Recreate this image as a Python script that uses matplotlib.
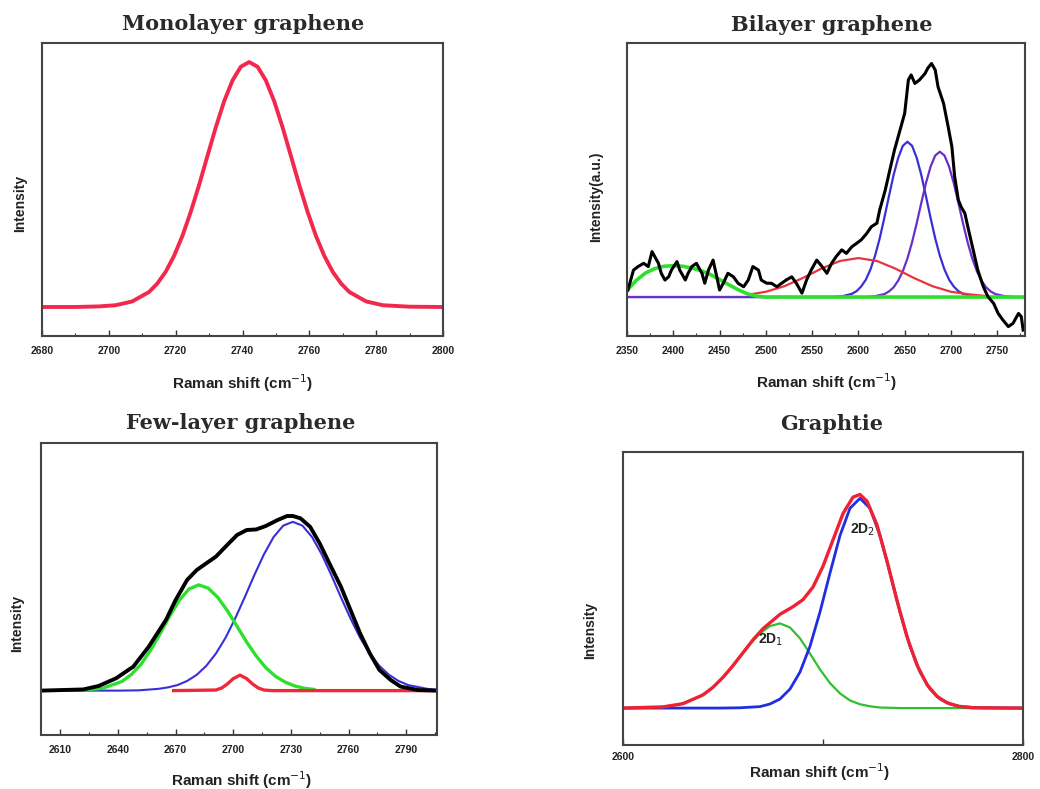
# Raman 2D band: monolayer / bilayer / few-layer graphene / graphite
import matplotlib
matplotlib.use('Agg')
import matplotlib.pyplot as plt
from matplotlib.ticker import MultipleLocator

# ================== data (intensity in % of frame) ==================
# Monolayer
mono_x = [2680, 2690, 2697, 2702, 2707, 2712, 2714.5, 2717, 2719.5, 2722, 2724.5, 2727,
          2729.5, 2732, 2734.5, 2737, 2739.5, 2742, 2744.5, 2747, 2749.5, 2752, 2754.5,
          2757, 2759.5, 2762, 2764.5, 2767, 2769.5, 2772, 2777, 2782, 2790, 2800]
mono_y = [9.9, 9.9, 10.1, 10.5, 11.8, 15.0, 17.9, 21.9, 27.3, 34.1, 42.3, 51.5,
          61.4, 71.2, 80.1, 87.2, 91.9, 93.5, 91.9, 87.2, 80.1, 71.2, 61.4,
          51.5, 42.3, 34.1, 27.3, 21.9, 17.9, 15.0, 11.8, 10.5, 10.0, 9.9]

# Bilayer: measured spectrum
bi_x = [2351, 2357, 2362, 2368, 2373, 2377, 2380, 2384, 2387, 2391,
        2395, 2398, 2404, 2407, 2413, 2416, 2420, 2425, 2431, 2434,
        2438, 2443, 2447, 2450, 2454, 2459, 2465, 2470, 2476, 2481,
        2486, 2492, 2495, 2501, 2506, 2512, 2517, 2522, 2528, 2533,
        2539, 2544, 2549, 2555, 2560, 2566, 2571, 2576, 2582, 2587,
        2593, 2598, 2603, 2609, 2614, 2620, 2623, 2629, 2634, 2639,
        2645, 2650, 2654, 2657, 2661, 2666, 2672, 2675, 2679, 2683,
        2686, 2692, 2697, 2701, 2704, 2708, 2711, 2715, 2719, 2724,
        2729, 2735, 2740, 2746, 2751, 2756, 2762, 2767, 2773, 2776,
        2778]
bi_y = [15.7, 22.5, 23.7, 24.8, 23.7, 28.8, 27.1, 24.8, 21.4, 19.1,
        20.2, 22.5, 25.4, 22.5, 19.1, 21.4, 23.7, 24.8, 21.4, 18.0,
        22.5, 25.9, 20.2, 15.7, 18.0, 21.4, 20.2, 18.0, 16.8, 19.1,
        23.7, 22.5, 19.1, 18.0, 18.0, 16.8, 18.0, 19.1, 20.2, 18.0,
        14.6, 19.1, 22.5, 25.9, 24.0, 21.4, 24.8, 27.1, 29.4, 28.2,
        30.5, 31.6, 32.8, 35.0, 37.3, 38.5, 43.0, 49.8, 56.7, 63.5,
        70.3, 76.0, 87.4, 89.1, 86.2, 87.4, 89.6, 91.4, 93.0, 90.8,
        85.1, 79.4, 71.4, 64.6, 54.4, 46.4, 44.1, 41.9, 36.2, 29.4,
        22.5, 16.8, 13.4, 11.2, 7.7, 5.5, 3.2, 4.3, 7.7, 6.6,
        2.0]
# Bilayer: fitted components
bi_p1_x = [2350, 2573, 2583, 2593, 2598, 2603, 2608, 2613, 2618, 2623, 2628, 2633, 2638, 2643,
           2648, 2653, 2658, 2663, 2668, 2673, 2678, 2683, 2688, 2693, 2698, 2703, 2708, 2713,
           2723, 2733, 2780]
bi_p1_y = [13.3, 13.3, 13.6, 14.4, 15.3, 16.9, 19.2, 22.7, 27.4, 33.3, 40.3, 47.7, 54.9, 60.8,
           64.9, 66.3, 64.9, 60.8, 54.9, 47.7, 40.3, 33.3, 27.4, 22.7, 19.2, 16.9, 15.3, 14.4,
           13.6, 13.3, 13.3]
bi_p2_x = [2350, 2608, 2618, 2628, 2633, 2638, 2643, 2648, 2653, 2658, 2663, 2668, 2673, 2678,
           2683, 2688, 2693, 2698, 2703, 2708, 2713, 2718, 2723, 2728, 2733, 2738, 2743, 2748,
           2758, 2768, 2780]
bi_p2_y = [13.3, 13.3, 13.6, 14.3, 15.2, 16.6, 18.9, 22.1, 26.5, 32.0, 38.5, 45.5, 52.2, 57.8,
           61.6, 62.9, 61.6, 57.8, 52.2, 45.5, 38.5, 32.0, 26.5, 22.1, 18.9, 16.6, 15.2, 14.3,
           13.6, 13.3, 13.3]
bi_red_x = [2483, 2500, 2520, 2540, 2560, 2580, 2600, 2620, 2640, 2660, 2680, 2700, 2720, 2740]
bi_red_y = [14.2, 15.1, 17.0, 19.8, 23.0, 25.6, 26.6, 25.6, 23.0, 19.8, 17.0, 15.1, 14.2, 13.6]
bi_green_x = [2350, 2360, 2370, 2380, 2390, 2400, 2410, 2420, 2430, 2440, 2450, 2460, 2470,
              2480, 2490, 2500, 2780]
bi_green_y = [15.5, 19.0, 21.5, 23.0, 23.8, 24.0, 23.8, 23.2, 22.3, 21.0, 19.3, 17.5, 15.8,
              14.4, 13.6, 13.3, 13.3]

# Few-layer
fl_x = [2600, 2622, 2630, 2639, 2648, 2656, 2665, 2670, 2676, 2681,
        2686, 2691, 2696, 2702, 2707, 2712, 2717, 2723, 2728, 2731,
        2735, 2740, 2745, 2750, 2756, 2761, 2766, 2771, 2776, 2782,
        2787, 2796, 2806]
fl_y = [15.2, 15.6, 16.8, 19.4, 23.4, 30.2, 39.4, 46.2, 53.1, 56.5,
        58.8, 61.1, 64.5, 68.5, 70.2, 70.4, 71.6, 73.6, 75.0, 75.0,
        74.2, 71.3, 65.6, 58.8, 50.8, 42.8, 34.8, 28.0, 22.3, 18.8,
        16.6, 15.4, 15.2]
fl_green_x = [2622, 2632, 2642, 2647, 2652, 2657, 2662, 2667, 2672, 2677, 2682, 2687,
              2692, 2697, 2702, 2707, 2712, 2717, 2722, 2727, 2732, 2737, 2742]
fl_green_y = [15.4, 16.0, 18.3, 20.7, 24.2, 29.0, 34.7, 40.8, 46.2, 50.0, 51.4, 50.3,
              47.1, 42.5, 37.2, 31.8, 27.0, 23.0, 20.1, 18.1, 16.8, 16.0, 15.6]
fl_blue_x = [2600, 2641, 2651, 2661, 2666, 2671, 2676, 2681, 2686, 2691, 2696, 2701, 2706,
             2711, 2716, 2721, 2726, 2731, 2736, 2741, 2746, 2751, 2756, 2761, 2766, 2771,
             2776, 2781, 2786, 2791, 2801, 2806]
fl_blue_y = [15.2, 15.2, 15.3, 15.8, 16.3, 17.1, 18.5, 20.6, 23.7, 27.9, 33.3, 39.9, 47.2,
             54.8, 61.9, 67.8, 71.7, 73.0, 71.7, 67.8, 61.9, 54.8, 47.2, 39.9, 33.3, 27.9,
             23.7, 20.6, 18.5, 17.1, 15.8, 15.5]
fl_red_x = [2669, 2691, 2694, 2697, 2700, 2703.5, 2707, 2710, 2713, 2716, 2720, 2806]
fl_red_y = [15.2, 15.4, 16.1, 17.5, 19.3, 20.5, 19.3, 17.5, 16.1, 15.4, 15.2, 15.2]

# Graphite
gr_green_x = [2600, 2618.5, 2628.5, 2638.5, 2643.5, 2648.5, 2653.5, 2658.5, 2663.5, 2668.5,
              2673.5, 2678.5, 2683.5, 2688.5, 2693.5, 2698.5, 2703.5, 2708.5, 2713.5, 2718.5,
              2723.5, 2728.5, 2738.5, 2800]
gr_green_y = [12.6, 12.9, 13.9, 16.5, 18.8, 22.0, 25.8, 30.1, 34.4, 38.1,
              40.6, 41.5, 40.1, 36.4, 31.2, 25.8, 21.1, 17.6, 15.2, 13.9,
              13.2, 12.8, 12.6, 12.6]
gr_blue_x = [2600, 2648.5, 2658.5, 2668.5, 2673.5, 2678.5, 2683.5, 2688.5, 2693.5, 2698.5,
             2703.5, 2708.5, 2713.5, 2718.5, 2723.5, 2728.5, 2733.5, 2738.5, 2743.5, 2748.5,
             2753.5, 2758.5, 2763.5, 2768.5, 2778.5, 2800]
gr_blue_y = [12.6, 12.6, 12.7, 13.1, 14.0, 15.7, 19.1, 24.9, 33.7, 45.4,
             58.7, 71.5, 80.8, 84.2, 80.8, 71.5, 58.7, 45.4, 33.7, 24.9,
             19.1, 15.7, 14.0, 13.1, 12.7, 12.6]
gr_red_x = [2600, 2620, 2630, 2640, 2645, 2650, 2655, 2660, 2665, 2670, 2678.5, 2685, 2690,
            2695, 2700, 2705, 2710, 2715, 2718.5, 2722, 2727, 2732, 2737, 2742, 2747, 2752,
            2757, 2762, 2768, 2775, 2800]
gr_red_y = [12.6, 13.0, 14.1, 17.1, 19.7, 23.1, 27.1, 31.5, 35.9, 39.7, 44.6, 47.2, 49.6,
            53.9, 61.0, 70.0, 79.0, 84.6, 85.5, 83.2, 75.1, 62.8, 49.3, 36.9, 27.3, 20.6,
            16.6, 14.4, 13.2, 12.7, 12.6]

mono_ticks = [2680, 2700, 2720, 2740, 2760, 2780, 2800]
bi_ticks = [2350, 2400, 2450, 2500, 2550, 2600, 2650, 2700, 2750]
fl_ticks = [2610, 2640, 2670, 2700, 2730, 2760, 2790]
gr_ticks = [2600, 2700, 2800]
gr_ticklabels = ['2600', '', '2800']

# ================== figure ==================
W, H = 1040, 789
fig = plt.figure(figsize=(W / 100, H / 100), dpi=100)

def px_axes(x0, y0, x1, y1):
    # frame given in pixel coords of the picture
    return fig.add_axes([x0 / W, 1 - y1 / H, (x1 - x0) / W, (y1 - y0) / H])

tick_font = dict(family='Liberation Sans', size=7.5, weight='bold')

def style(ax, xlim, ticks, minor, pad, labels=None):
    ax.set_xlim(*xlim)
    ax.set_ylim(0, 100)
    ax.set_yticks([])
    ax.set_xticks(ticks)
    if labels is not None:
        ax.set_xticklabels(labels)
    if minor:
        ax.xaxis.set_minor_locator(MultipleLocator(minor))
    ax.tick_params(axis='x', which='major', direction='in', length=4, width=1,
                   pad=pad, colors='#333333')
    ax.tick_params(axis='x', which='minor', direction='in', length=2, width=0.8,
                   colors='#333333')
    for lab in ax.get_xticklabels():
        lab.set_fontfamily(tick_font['family'])
        lab.set_fontsize(tick_font['size'])
        lab.set_fontweight(tick_font['weight'])
        lab.set_color('#222222')
    for s in ax.spines.values():
        s.set_linewidth(1.5)
        s.set_color('#444444')

title_kw = dict(family='DejaVu Serif', weight='bold', size=15, color='#2a2a2a',
                ha='center', va='center')
xlab_kw = dict(family='Liberation Sans', size=11, weight='bold', color='#222222',
               ha='center', va='center')
ylab_kw = dict(family='Liberation Sans', size=10, weight='bold', color='#222222',
               ha='center', va='center', rotation=90)

def ftext(x, y, s, **kw):
    fig.text(x / W, 1 - y / H, s, **kw)

xlabel = 'Raman shift (cm$^{-1}$)'

# --- Monolayer ---
ax1 = px_axes(42, 43, 443, 336)
ax1.plot(mono_x, mono_y, color='#f2284d', lw=2.8, solid_joinstyle='round')
style(ax1, (2680, 2800), mono_ticks, 10, 7)
ftext(243, 24, 'Monolayer graphene', **title_kw)
ftext(243, 383, xlabel, **xlab_kw)
ftext(20, 203, 'Intensity', **ylab_kw)

# --- Bilayer ---
ax2 = px_axes(627, 43, 1025, 336)
ax2.plot(bi_p1_x, bi_p1_y, color='#3a2fd6', lw=1.6)
ax2.plot(bi_p2_x, bi_p2_y, color='#6a2fc8', lw=1.6)
ax2.plot(bi_red_x, bi_red_y, color='#e8343c', lw=1.6)
ax2.plot(bi_green_x, bi_green_y, color='#2ee02e', lw=2.6)
ax2.plot(bi_x, bi_y, color='black', lw=2.2, solid_joinstyle='round')
style(ax2, (2350, 2780), bi_ticks, 25, 7)
ftext(832, 25, 'Bilayer graphene', **title_kw)
ftext(827, 382, xlabel, **xlab_kw)
ftext(596, 197, 'Intensity(a.u.)', **ylab_kw)

# --- Few-layer ---
ax3 = px_axes(41, 443, 437, 735)
ax3.plot(fl_blue_x, fl_blue_y, color='#3a2fd6', lw=1.5)
ax3.plot(fl_green_x, fl_green_y, color='#2ee02e', lw=2.4)
ax3.plot(fl_red_x, fl_red_y, color='#ee2a3a', lw=2.4)
ax3.plot(fl_x, fl_y, color='black', lw=2.8, solid_joinstyle='round')
style(ax3, (2600, 2806), fl_ticks, 15, 7)
ftext(241, 423, 'Few-layer graphene', **title_kw)
ftext(242, 780, xlabel, **xlab_kw)
ftext(17, 623, 'Intensity', **ylab_kw)

# --- Graphite ---
ax4 = px_axes(623, 452, 1023, 745)
ax4.plot(gr_green_x, gr_green_y, color='#2fbf2f', lw=1.6)
ax4.plot(gr_blue_x, gr_blue_y, color='#1f2ee0', lw=2.0)
ax4.plot(gr_red_x, gr_red_y, color='#ee2233', lw=2.4, solid_joinstyle='round')
ax4.text(2674, 35.8, '2D$_1$', family='Liberation Sans', size=10, weight='bold',
         color='#222222', ha='center', va='center')
ax4.text(2720, 73.4, '2D$_2$', family='Liberation Sans', size=10, weight='bold',
         color='#222222', ha='center', va='center')
style(ax4, (2600, 2800), gr_ticks, None, 5, gr_ticklabels)
ftext(832, 424, 'Graphtie', **title_kw)
ftext(820, 772, xlabel, **xlab_kw)
ftext(590, 630, 'Intensity', **ylab_kw)

fig.savefig('out.png', dpi=100)
